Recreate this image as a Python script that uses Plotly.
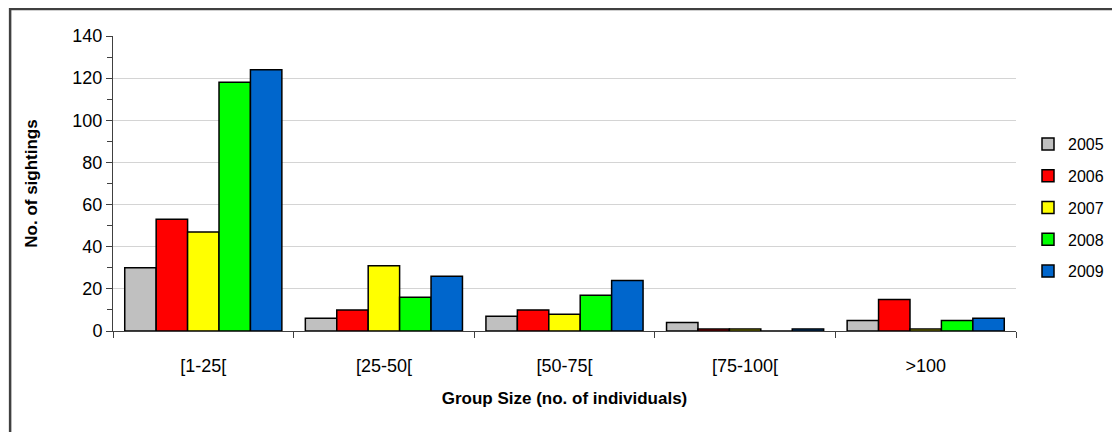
import plotly.graph_objects as go

categories = ["[1-25[", "[25-50[", "[50-75[", "[75-100[", ">100"]
years = ["2005", "2006", "2007", "2008", "2009"]
v2005 = [30, 6, 7, 4, 5]
v2006 = [53, 10, 10, 1, 15]
v2007 = [47, 31, 8, 1, 1]
v2008 = [118, 16, 17, 0, 5]
v2009 = [124, 26, 24, 1, 6]
series = [v2005, v2006, v2007, v2008, v2009]
colors = ["#C0C0C0", "#FF0000", "#FFFF00", "#00FF00", "#0066CC"]

FONT = "Liberation Sans, Arial, sans-serif"

fig = go.Figure()
for name, vals, col in zip(years, series, colors):
    fig.add_trace(go.Bar(
        x=categories, y=vals, name=name, legendgroup=name,
        marker=dict(color=col, line=dict(color="#000000", width=1.5)),
    ))

# page has an 8px body margin; figure coordinates are page minus 8
W, H = 1112, 424
L, R, T, B = 105, 103, 28, 101
pw, ph = W - L - R, H - T - B

fig.update_layout(
    width=W, height=H,
    margin=dict(l=L, r=R, t=T, b=B),
    paper_bgcolor="white", plot_bgcolor="white",
    barmode="group", bargap=0.13, bargroupgap=0,
    font=dict(family=FONT, size=18, color="#000000"),
    legend=dict(
        x=(1020 - L) / pw, xanchor="left",
        y=(323 - 199.5) / ph, yanchor="middle",
        tracegroupgap=8, traceorder="grouped",
        font=dict(family=FONT, size=16),
        bgcolor="rgba(0,0,0,0)",
    ),
    shapes=[dict(
        type="rect", xref="paper", yref="paper",
        x0=(2 - L) / pw, x1=1.3, y0=-0.6, y1=(323 - 1) / ph,
        line=dict(color="#404040", width=2.5), fillcolor="rgba(0,0,0,0)",
        layer="below",
    )],
)

fig.update_xaxes(
    automargin=False,
    showline=True, linecolor="#404040", linewidth=1,
    ticks="outside", tickson="boundaries", ticklen=6, tickcolor="#404040",
    ticklabelstandoff=18,
    tickfont=dict(family=FONT, size=18),
    title=dict(text="<b>Group Size (no. of individuals)</b>", standoff=17,
               font=dict(family=FONT, size=17)),
    showgrid=False,
)
fig.update_yaxes(
    automargin=False,
    range=[0, 140], dtick=20,
    showline=True, linecolor="#404040", linewidth=1,
    ticks="outside", ticklen=6, tickcolor="#404040",
    tickfont=dict(family=FONT, size=18),
    showgrid=True, gridcolor="#D4D4D4", gridwidth=1,
    minor=dict(dtick=10, ticks="outside", ticklen=5, tickcolor="#404040", showgrid=False),
    zeroline=False,
    title=dict(text="<b>No. of sightings</b>", standoff=30,
               font=dict(family=FONT, size=17)),
)

fig.write_html("out.html")
